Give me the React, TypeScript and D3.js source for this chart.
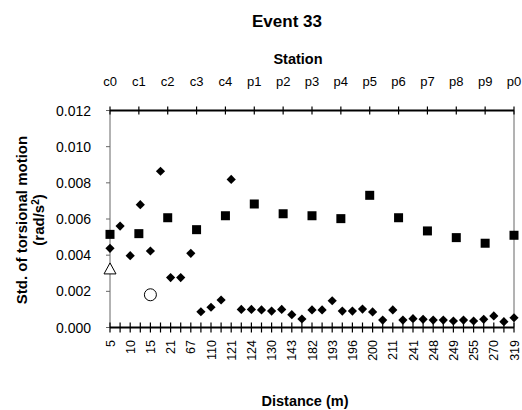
import React from 'react';
import * as d3 from 'd3';

// Station names on the top axis
const stations = ['c0', 'c1', 'c2', 'c3', 'c4', 'p1', 'p2', 'p3', 'p4', 'p5', 'p6', 'p7', 'p8', 'p9', 'p0'];

// Distance labels (shown on every other bottom category)
const distanceLabels = ['5', '10', '15', '21', '67', '110', '121', '124', '130', '143', '182', '193', '196', '200', '211', '241', '248', '249', '255', '270', '319'];

// Diamonds: one value per bottom category (41 categories)
const diamondValues = [
  0.00438, 0.00561, 0.00397, 0.00679, 0.00423, 0.00864, 0.00276, 0.00276, 0.0041, 0.00087,
  0.00112, 0.00152, 0.00819, 0.001, 0.001, 0.00097, 0.00091, 0.001, 0.00071, 0.00047,
  0.00097, 0.00097, 0.00148, 0.00091, 0.00091, 0.00102, 0.00086, 0.00041, 0.00097, 0.00041,
  0.00049, 0.00045, 0.00041, 0.00041, 0.00036, 0.00041, 0.00036, 0.00045, 0.00064, 0.00032,
  0.00054,
];

// Squares: one value per station
const squareValues = [
  0.00515, 0.00519, 0.00607, 0.00541, 0.00618, 0.00683, 0.00629, 0.00618, 0.00602, 0.00731,
  0.00607, 0.00534, 0.00497, 0.00466, 0.0051,
];

// Single hollow markers (bottom category index, value)
const triangleIndex = [0];
const triangleValue = [0.00324];
const circleIndex = [4];
const circleValue = [0.00181];

const yTicks = [0, 0.002, 0.004, 0.006, 0.008, 0.01, 0.012];

const FONT = '"Liberation Sans", Arial, sans-serif';

export default function App() {
  const width = 522;
  const height = 410;
  const left = 110;
  const right = 514;
  const top = 110.5;
  const bottom = 327.5;

  const categories = d3.range(diamondValues.length);
  const x = d3.scalePoint<number>().domain(categories).range([left, right]);
  const xTop = d3.scalePoint<string>().domain(stations).range([left, right]);
  const y = d3.scaleLinear().domain([0, 0.012]).range([bottom, top]);

  const diamond = d3.symbol().type(d3.symbolDiamond2).size(54)();

  return (
    <svg width={width} height={height} style={{ position: 'absolute', left: 0, top: 0 }} fontFamily={FONT}>
      <rect width={width} height={height} fill="#fff" />

      {/* Titles */}
      <text x={287} y={27} textAnchor="middle" fontSize={17} fontWeight="bold">Event 33</text>
      <text x={298} y={64} textAnchor="middle" fontSize={14.5} fontWeight="bold">Station</text>
      <text x={305} y={406} textAnchor="middle" fontSize={14.5} fontWeight="bold">Distance (m)</text>
      <g transform="translate(27,220) rotate(-90)">
        <text textAnchor="middle" fontSize={15} fontWeight="bold">Std. of torsional motion</text>
      </g>
      <g transform="translate(44,220) rotate(-90)">
        <text textAnchor="middle" fontSize={15} fontWeight="bold">
          (rad/s<tspan dy={-5} fontSize={10}>2</tspan><tspan dy={5}>)</tspan>
        </text>
      </g>

      {/* Left and right frame lines */}
      <line x1={left} x2={left} y1={top} y2={bottom} stroke="#666" strokeWidth={1} />
      <line x1={right} x2={right} y1={top} y2={bottom} stroke="#666" strokeWidth={1} />

      {/* Y axis ticks and labels */}
      {yTicks.map((t) => (
        <g key={t}>
          <line x1={left - 4} x2={left} y1={y(t)} y2={y(t)} stroke="#666" />
          <text x={91} y={y(t) + 5} textAnchor="end" fontSize={14}>{t.toFixed(3)}</text>
        </g>
      ))}

      {/* Top station axis */}
      <line x1={left} x2={right} y1={top} y2={top} stroke="#000" strokeWidth={2} />
      {stations.map((s) => (
        <g key={s}>
          <line x1={xTop(s)} x2={xTop(s)} y1={top - 4} y2={top + 4} stroke="#000" strokeWidth={1.2} />
          <text x={xTop(s)} y={86} textAnchor="middle" fontSize={13}>{s}</text>
        </g>
      ))}

      {/* Bottom distance axis */}
      <line x1={left} x2={right} y1={bottom} y2={bottom} stroke="#000" strokeWidth={2} />
      {categories.map((c) => (
        <line key={c} x1={x(c)} x2={x(c)} y1={bottom - 5} y2={bottom + 5} stroke="#000" strokeWidth={1.2} />
      ))}
      {distanceLabels.map((lab, i) => (
        <text
          key={i}
          transform={`translate(${(x(i * 2) as number) + 4.5},340) rotate(-90)`}
          textAnchor="end"
          fontSize={12.5}
        >
          {lab}
        </text>
      ))}

      {/* Squares */}
      {squareValues.map((v, i) => (
        <rect key={i} x={(xTop(stations[i]) as number) - 4.5} y={y(v) - 4.5} width={9} height={9} fill="#000" />
      ))}

      {/* Diamonds */}
      {diamondValues.map((v, i) => (
        <path key={i} d={diamond as string} transform={`translate(${x(i)},${y(v)})`} fill="#000" />
      ))}

      {/* Hollow triangle */}
      {triangleValue.map((v, i) => {
        const cx = x(triangleIndex[i]) as number;
        const cy = y(v);
        return (
          <path
            key={i}
            d={`M${cx},${cy - 6}L${cx + 6},${cy + 5}L${cx - 6},${cy + 5}Z`}
            fill="#fff"
            stroke="#000"
            strokeWidth={1}
          />
        );
      })}

      {/* Hollow circle */}
      {circleValue.map((v, i) => (
        <circle key={i} cx={x(circleIndex[i])} cy={y(v)} r={6} fill="#fff" stroke="#000" strokeWidth={1} />
      ))}
    </svg>
  );
}
